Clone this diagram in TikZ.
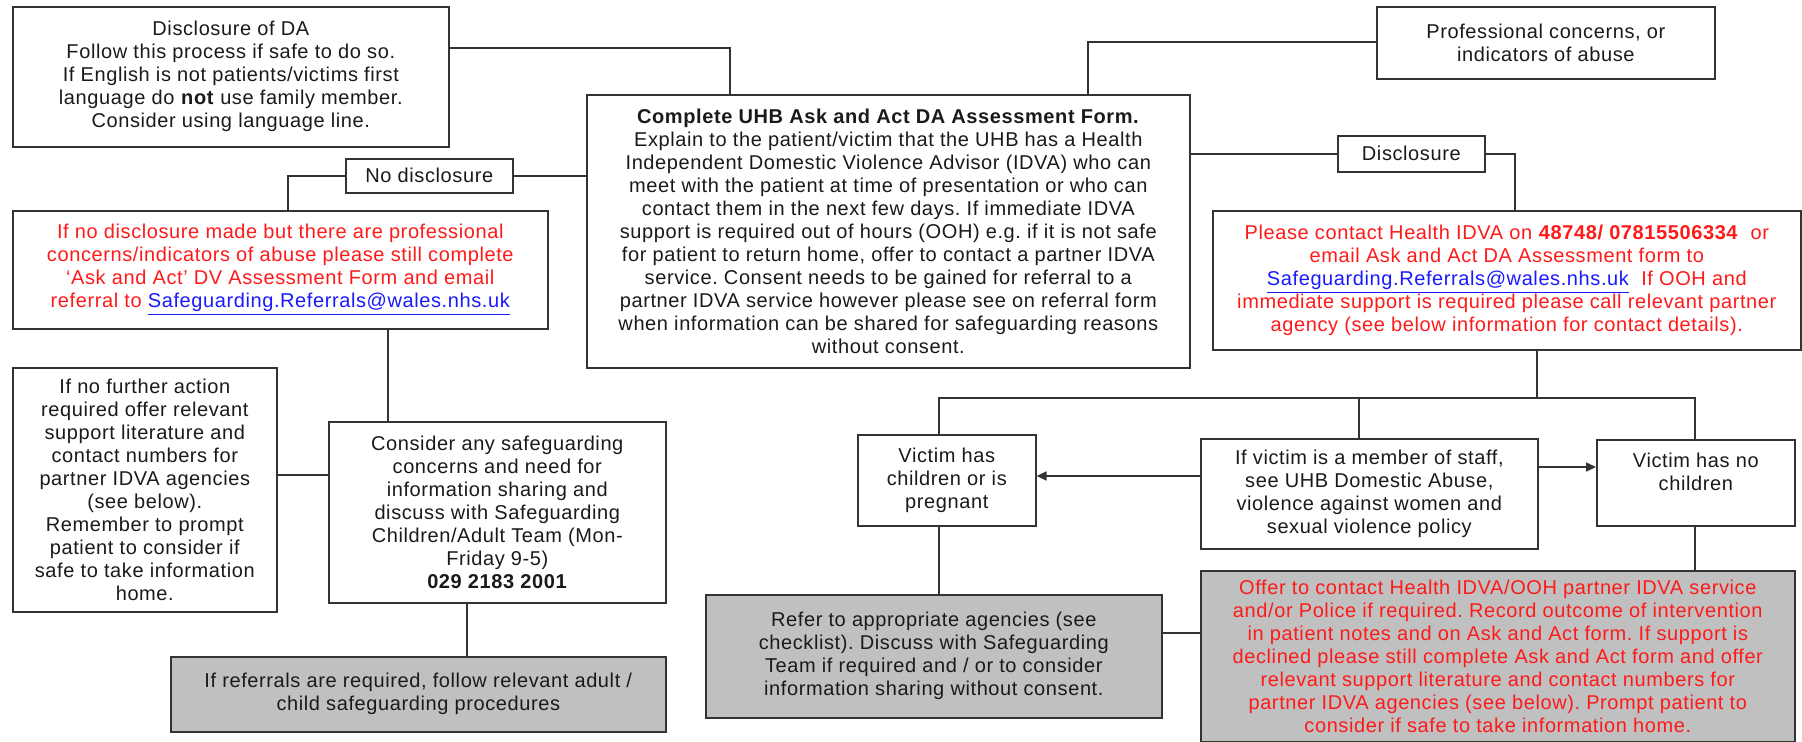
\documentclass[tikz,border=0pt]{standalone}
\usepackage{fontspec}
\setmainfont[LetterSpace=3]{Liberation Sans}
\usetikzlibrary{arrows.meta}
\frenchspacing
\definecolor{bordc}{HTML}{333333}
\definecolor{txtc}{HTML}{1A1A1A}
\definecolor{redt}{HTML}{FF1A1A}
\definecolor{linkc}{HTML}{1A1AFF}
\definecolor{greyf}{HTML}{C0C0C0}
\tikzset{
  boxst/.style={draw=bordc, line width=0.8pt, fill=white, inner sep=0pt, align=center,
    text=txtc, font=\fontsize{10}{11.5}\selectfont\frenchspacing},
  greybox/.style={fill=greyf},
  redtext/.style={text=redt},
  conn/.style={draw=bordc, line width=0.8pt},
  arr/.style={conn, -{Triangle[length=5pt,width=4.5pt]}},
}
\newcommand{\lnk}[1]{\textcolor{linkc}{\underline{#1}}}
\newcommand{\mybox}[7][]{\node[boxst,#1,anchor=north west,minimum width={(#5-#3)*0.5pt},minimum height={(#6-#4)*0.5pt}] (#2) at (#3,#4) {#7};}
\begin{document}
\begin{tikzpicture}[x=0.5pt,y=-0.5pt]
\useasboundingbox (0,0) rectangle (1802,741);

\mybox{da}{12}{6}{448}{146}{Disclosure of DA\\Follow this process if safe to do so.\\If English is not patients/victims first\\language do \textbf{not} use family member.\\Consider using language line.}
\mybox{prof}{1376}{6}{1714}{78}{Professional concerns, or\\indicators of abuse}
\mybox{central}{586}{94}{1189}{367}{\textbf{Complete UHB Ask and Act DA Assessment Form.}\\Explain to the patient/victim that the UHB has a Health\\Independent Domestic Violence Advisor (IDVA) who can\\meet with the patient at time of presentation or who can\\contact them in the next few days. If immediate IDVA\\support is required out of hours (OOH) e.g. if it is not safe\\for patient to return home, offer to contact a partner IDVA\\service. Consent needs to be gained for referral to a\\partner IDVA service however please see on referral form\\when information can be shared for safeguarding reasons\\without consent.}
\mybox{nd}{345}{158}{512}{192}{No disclosure}
\mybox{disc}{1337}{135}{1484}{171}{Disclosure}
\mybox[redtext]{red}{12}{210}{547}{328}{If no disclosure made but there are professional\\concerns/indicators of abuse please still complete\\‘Ask and Act’ DV Assessment Form and email\\referral to \lnk{Safeguarding.Referrals@wales.nhs.uk}}
\mybox[redtext]{please}{1212}{210}{1800}{349}{Please contact Health IDVA on \textbf{48748/ 07815506334}~~or\\email Ask and Act DA Assessment form to\\\lnk{Safeguarding.Referrals@wales.nhs.uk}~~If OOH and\\immediate support is required please call relevant partner\\agency (see below information for contact details).}
\mybox{nofurther}{12}{367}{276}{611}{If no further action\\required offer relevant\\support literature and\\contact numbers for\\partner IDVA agencies\\(see below).\\Remember to prompt\\patient to consider if\\safe to take information\\home.}
\mybox{consider}{328}{421}{665}{602}{Consider any safeguarding\\concerns and need for\\information sharing and\\discuss with Safeguarding\\Children/Adult Team (Mon-\\Friday 9-5)\\\textbf{029 2183 2001}}
\mybox[greybox]{grey}{170}{656}{665}{731}{If referrals are required, follow relevant adult /\\child safeguarding procedures}
\mybox{children}{857}{434}{1035}{525}{Victim has\\children or is\\pregnant}
\mybox{staff}{1200}{438}{1537}{548}{If victim is a member of staff,\\see UHB Domestic Abuse,\\violence against women and\\sexual violence policy}
\mybox{nochild}{1596}{439}{1794}{525}{Victim has no\\children\\\mbox{}}
\mybox[greybox]{refer}{705}{594}{1161}{717}{Refer to appropriate agencies (see\\checklist). Discuss with Safeguarding\\Team if required and / or to consider\\information sharing without consent.}
\mybox[greybox,redtext]{offer}{1200}{570}{1794}{741}{Offer to contact Health IDVA/OOH partner IDVA service\\and/or Police if required. Record outcome of intervention\\in patient notes and on Ask and Act form. If support is\\declined please still complete Ask and Act form and offer\\relevant support literature and contact numbers for\\partner IDVA agencies (see below). Prompt patient to\\consider if safe to take information home.}

% connectors
\coordinate (k1) at (730,48);
\draw[conn] (da.east |- k1) -| (central.north -| k1);
\coordinate (k2) at (1088,42);
\draw[conn] (prof.west |- k2) -| (central.north -| k2);
\draw[conn] (central.west |- nd.east) -- (nd.east);
\coordinate (k4) at (288,0);
\draw[conn] (nd.west) -| (red.north -| k4);
\coordinate (k5) at (388,0);
\draw[conn] (red.south -| k5) -- (consider.north -| k5);
\coordinate (k6) at (0,475);
\draw[conn] (nofurther.east |- k6) -- (consider.west |- k6);
\coordinate (k7) at (467,0);
\draw[conn] (consider.south -| k7) -- (grey.north -| k7);
\draw[conn] (central.east |- disc.west) -- (disc.west);
\coordinate (k9) at (1515,0);
\draw[conn] (disc.east) -| (please.north -| k9);
\coordinate (bus) at (1537,398);
\coordinate (busL) at (939,398);
\coordinate (busM) at (1359,398);
\coordinate (busR) at (1695,398);
\draw[conn] (please.south -| bus) -- (bus);
\draw[conn] (children.north -| busL) -- (busL) -- (busR) -- (nochild.north -| busR);
\draw[conn] (busM) -- (staff.north -| busM);
\coordinate (ka) at (0,476);
\draw[arr] (staff.west |- ka) -- (children.east |- ka);
\coordinate (kb) at (0,467);
\draw[arr] (staff.east |- kb) -- (nochild.west |- kb);
\draw[conn] (children.south -| busL) -- (refer.north -| busL);
\draw[conn] (nochild.south -| busR) -- (offer.north -| busR);
\coordinate (kc) at (0,633);
\draw[conn] (refer.east |- kc) -- (offer.west |- kc);
\end{tikzpicture}
\end{document}
